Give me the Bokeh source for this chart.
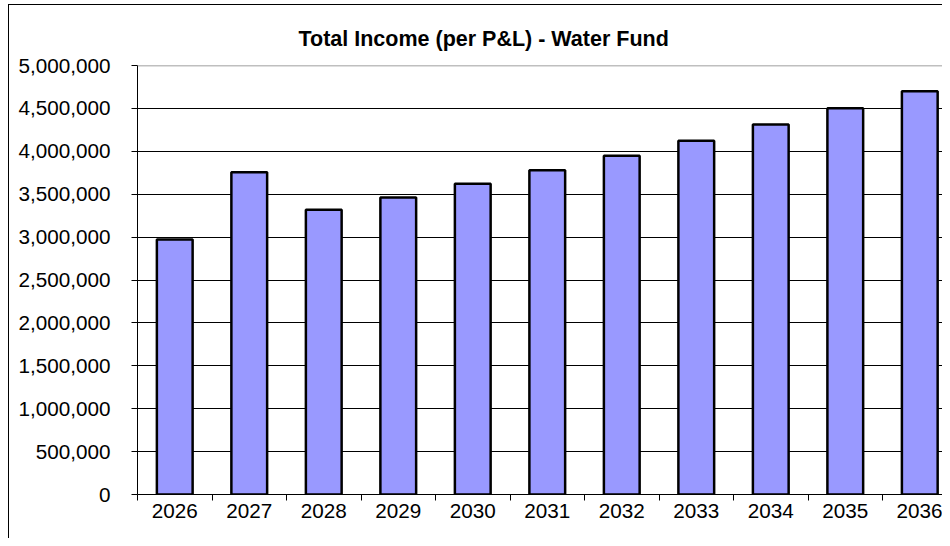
from bokeh.plotting import figure
from bokeh.models import (Range1d, FixedTicker, NumeralTickFormatter, Span,
                          ColumnDataSource, InlineStyleSheet)
from bokeh.embed import file_html
from bokeh.resources import INLINE

# ---- data ----
years = [2026, 2027, 2028, 2029, 2030, 2031, 2032, 2033, 2034, 2035, 2036]
total_income = [2972000, 3757000, 3318000, 3461000, 3621000, 3780000,
                3947000, 4122000, 4312000, 4502000, 4700000]
y_ticks = [0, 500000, 1000000, 1500000, 2000000, 2500000,
           3000000, 3500000, 4000000, 4500000, 5000000]
chart_title = "Total Income (per P&L) - Water Fund"

FONT = "Liberation Sans"
VISIBLE_CATEGORIES = 10.805  # the chart is cut off on the right

src = ColumnDataSource(dict(year=years, income=total_income))

p = figure(width=942, height=538, output_backend="svg", toolbar_location=None,
           x_range=Range1d(years[0] - 0.5, years[0] - 0.5 + VISIBLE_CATEGORIES),
           y_range=Range1d(y_ticks[0], y_ticks[-1]),
           min_border_left=137, min_border_top=65, min_border_bottom=44,
           min_border_right=0)

p.vbar(x="year", top="income", width=0.48, source=src,
       fill_color="#9999FF", line_color="black", line_width=2.5)

p.background_fill_color = "white"
p.border_fill_color = "white"
p.outline_line_color = None

# x axis
p.xaxis.ticker = FixedTicker(ticks=years,
                             minor_ticks=[y - 0.5 for y in years] + [years[-1] + 0.5])
p.xaxis.major_label_overrides = {y: str(y) for y in years}
p.xaxis.major_tick_out = 0
p.xaxis.major_tick_in = 0
p.xaxis.minor_tick_out = 6
p.xaxis.minor_tick_in = 0
p.xaxis.minor_tick_line_color = "black"
p.xaxis.axis_line_color = "black"
p.xaxis.major_label_text_font = FONT
p.xaxis.major_label_text_font_size = "20.7px"
p.xaxis.major_label_text_color = "black"
p.xaxis.major_label_standoff = 3
p.xgrid.grid_line_color = None

# y axis
p.yaxis.ticker = FixedTicker(ticks=y_ticks)
p.yaxis.formatter = NumeralTickFormatter(format="0,0")
p.yaxis.major_tick_out = 6
p.yaxis.major_tick_in = 0
p.yaxis.minor_tick_line_color = None
p.yaxis.major_tick_line_color = "black"
p.yaxis.axis_line_color = "black"
p.yaxis.major_label_text_font = FONT
p.yaxis.major_label_text_font_size = "20.7px"
p.yaxis.major_label_text_color = "black"
p.yaxis.major_label_standoff = 21
p.ygrid.ticker = FixedTicker(ticks=y_ticks[1:-1])
p.ygrid.grid_line_color = "black"
p.ygrid.grid_line_width = 1

p.add_layout(Span(location=y_ticks[-1], dimension="width",
                  line_color="#808080", line_width=1.5))

# title
p.title.text = chart_title
p.title.text_font = FONT
p.title.text_font_size = "21.5px"
p.title.text_font_style = "bold"
p.title.text_color = "black"
p.title.align = "left"
p.title.offset = 161
p.title.standoff = 29

# outer chart-area border (only its left and top edges are in view)
p.stylesheets = [InlineStyleSheet(css="""
:host { position: relative; }
:host::after {
  content: ""; position: absolute; left: 8px; top: 4px; right: 0; bottom: 0;
  border-left: 1px solid #000; border-top: 1px solid #000;
  pointer-events: none; z-index: 10;
}
""")]

open("out.html", "w").write(file_html(p, INLINE))
